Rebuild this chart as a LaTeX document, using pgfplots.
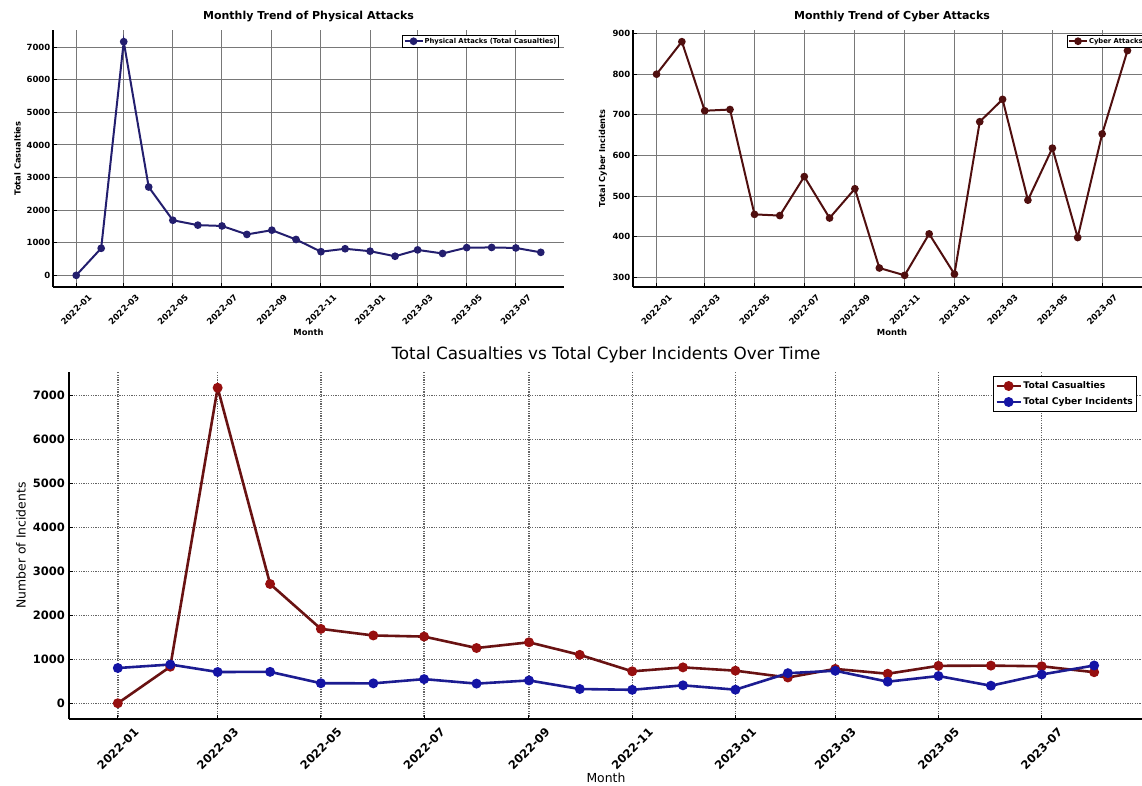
\documentclass[border=0pt]{standalone}
\usepackage{pgfplots}
\usepackage{pgfplotstable}
\pgfplotsset{compat=1.18}
\usepackage{fontspec}
\setmainfont{DejaVu Sans}
\definecolor{navyl}{RGB}{35,30,110}
\definecolor{maroonl}{RGB}{80,15,15}
\definecolor{redb}{RGB}{105,18,18}
\definecolor{redm}{RGB}{150,15,15}
\definecolor{blueb}{RGB}{28,28,145}
\definecolor{bluem}{RGB}{20,20,165}
\definecolor{gridt}{RGB}{120,120,120}
\definecolor{gridb}{RGB}{100,100,100}

\pgfplotstableread{
x phys cyber
0 0 800
31 830 880
59 7170 710
90 2710 713
120 1690 455
151 1540 452
181 1515 548
212 1255 446
243 1385 518
273 1100 323
304 725 305
334 815 407
365 740 308
396 585 683
424 780 738
455 670 490
485 850 618
516 855 398
546 840 653
577 705 858
}\data

\pgfplotsset{
  common/.style={
    scale only axis,
    axis lines*=left,
    xmin=-28.85, xmax=605.85,
    xtick={0,59,120,181,243,304,365,424,485,546},
    xticklabels={2022-01,2022-03,2022-05,2022-07,2022-09,2022-11,2023-01,2023-03,2023-05,2023-07},
    grid=major,
    axis line style={line width=2pt, black},
    tick style={black, line width=1pt},
    major tick length=4pt,
    tick align=inside,
    scaled y ticks=false,
    /pgf/number format/assume math mode=true,
    /pgf/number format/1000 sep={},
    legend cell align=left,
  },
  small/.style={
    common,
    width=511pt, height=257pt,
    grid style={line width=1pt, color=gridt},
    tick label style={font=\fontsize{8.5}{10}\selectfont\bfseries},
    xticklabel style={yshift=-22.5pt, rotate=45, anchor=center},
    yticklabel style={inner sep=0pt, xshift=-2.5pt},
    title style={font=\fontsize{11}{13}\selectfont\bfseries, at={([yshift=4pt]rel axis cs:0.5,1)}, anchor=base},
    every axis x label/.style={at={([yshift=-45pt]rel axis cs:0.5,0)}, anchor=center, font=\fontsize{8.4}{10}\selectfont\bfseries},
    legend style={font=\fontsize{6.8}{8}\selectfont\bfseries, draw=black, line width=0.8pt, inner xsep=1pt, inner ysep=1.5pt, nodes={inner sep=1pt}},
    legend image code/.code={\draw[mark repeat=2,mark phase=2,#1] plot coordinates {(0pt,0pt) (9pt,0pt) (18pt,0pt)};},
  },
}

\begin{document}
\begin{tikzpicture}
\useasboundingbox (0,0) rectangle (1142pt,785pt);

% top-left
\begin{axis}[small, at={(53pt,498pt)}, anchor=south west,
  ymin=-358.5, ymax=7528.5, ytick={0,1000,...,7000},
  title={Monthly Trend of Physical Attacks},
  xlabel={Month}, ylabel={Total Casualties},
  every axis y label/.style={at={([xshift=-35.5pt]rel axis cs:0,0.5)}, rotate=90, anchor=center, font=\fontsize{8.3}{10}\selectfont\bfseries},
  legend style={at={(rel axis cs:0.9902,0.9805)}, anchor=north east},
]
\addplot[color=navyl, line width=2pt, mark=*, mark size=2.8pt, mark options={solid, fill=navyl}] table[x=x, y=phys] {\data};
\addlegendentry{Physical Attacks (Total Casualties)}
\end{axis}

% top-right
\begin{axis}[small, at={(633pt,498pt)}, anchor=south west, width=518pt,
  ymin=276.25, ymax=908.75, ytick={300,400,...,900},
  title={Monthly Trend of Cyber Attacks},
  xlabel={Month}, ylabel={Total Cyber Incidents},
  every axis y label/.style={at={([xshift=-30pt]rel axis cs:0,0.5)}, rotate=90, anchor=center, font=\fontsize{8.2}{10}\selectfont\bfseries},
  legend style={at={(rel axis cs:0.9884,0.9805)}, anchor=north east},
]
\addplot[color=maroonl, line width=2pt, mark=*, mark size=2.8pt, mark options={solid, fill=maroonl}] table[x=x, y=cyber] {\data};
\addlegendentry{Cyber Attacks}
\end{axis}

% bottom
\begin{axis}[common, at={(69pt,66pt)}, anchor=south west,
  width=1074pt, height=347pt,
  ymin=-358.5, ymax=7528.5, ytick={0,1000,...,7000},
  grid style={line width=1.4pt, color=gridb, dash pattern=on 1.2pt off 1.2pt},
  tick label style={font=\fontsize{11.5}{13}\selectfont\bfseries},
  xticklabel style={yshift=-30pt, rotate=45, anchor=center},
  yticklabel style={inner sep=0pt, xshift=-4pt},
  title style={font=\fontsize{16.8}{19}\selectfont, at={([yshift=7pt]rel axis cs:0.5,1)}, anchor=base},
  title={Total Casualties vs Total Cyber Incidents Over Time},
  xlabel={Month}, ylabel={Number of Incidents},
  every axis x label/.style={at={([yshift=-59pt]rel axis cs:0.5,0)}, anchor=center, font=\fontsize{12.4}{14}\selectfont},
  every axis y label/.style={at={([xshift=-48pt]rel axis cs:0,0.5)}, rotate=90, anchor=center, font=\fontsize{12.4}{14}\selectfont},
  legend style={at={(rel axis cs:0.9944,0.9885)}, anchor=north east, font=\fontsize{9.2}{11}\selectfont\bfseries, draw=black, line width=1pt, inner xsep=2pt, inner ysep=3.5pt, row sep=4pt, nodes={inner sep=1.5pt, text height=7pt, text depth=2pt}},
  legend image code/.code={\draw[mark repeat=2,mark phase=2,#1] plot coordinates {(0pt,0pt) (12pt,0pt) (24pt,0pt)};},
]
\addplot[color=redb, line width=2.6pt, mark=*, mark size=3.6pt, mark options={solid, fill=redm, draw=redm}] table[x=x, y=phys] {\data};
\addlegendentry{Total Casualties}
\addplot[color=blueb, line width=2.6pt, mark=*, mark size=3.6pt, mark options={solid, fill=bluem, draw=bluem}] table[x=x, y=cyber] {\data};
\addlegendentry{Total Cyber Incidents}
\end{axis}
\end{tikzpicture}
\end{document}
